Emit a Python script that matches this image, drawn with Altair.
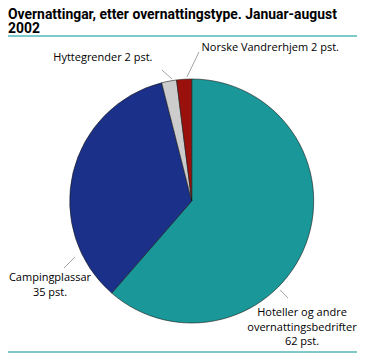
import math
import altair as alt
import pandas as pd

# ---- data ----
categories = ["Hoteller og andre overnattingsbedrifter", "Campingplassar", "Hyttegrender", "Norske Vandrerhjem"]
values = [62, 35, 2, 2]
label_texts = [
    "Hoteller og andre\novernattingsbedrifter\n62 pst.",
    "Campingplassar\n35 pst.",
    "Hyttegrender 2 pst.",
    "Norske Vandrerhjem 2 pst.",
]
colors = ["#1a9899", "#1b3189", "#cccccc", "#9a100c"]
title_text = "Overnattingar, etter overnattingstype. Januar-august\n2002"

# ---- layout ----
W, H = 349, 345
CX, CY, R = 183.7, 193.0, 122
FONT = "Open Sans"

pie_df = pd.DataFrame({"category": categories, "value": values, "order": list(range(len(values)))})

pie = alt.Chart(pie_df).mark_arc(radius=R, x=CX, y=CY, stroke="#1a1a1a", strokeWidth=0.6).encode(
    theta=alt.Theta("value:Q", stack=True),
    color=alt.Color("category:N", scale=alt.Scale(domain=categories, range=colors), legend=None),
    order=alt.Order("order:Q"),
)

# leader lines: (angle_in_deg, radius) at inner and outer end, clockwise from 12 o'clock
leaders = [
    (135.2, 125.4, 135.2, 136.7),
    (244.4, 129.4, 242.3, 144.2),
    (350.8, 123.6, 347.2, 134.3),
    (357.8, 124.1, 2.8, 149.2),
]
def pt(a, r):
    t = math.radians(a)
    return CX + r * math.sin(t), CY - r * math.cos(t)
rows = []
for a1, r1, a2, r2 in leaders:
    x1, y1 = pt(a1, r1)
    x2, y2 = pt(a2, r2)
    rows.append({"x": x1, "y": y1, "x2": x2, "y2": y2})
lead_df = pd.DataFrame(rows)
lead = alt.Chart(lead_df).mark_rule(color="#8c8c8c", strokeWidth=0.8).encode(
    x=alt.X("x:Q", scale=None), y=alt.Y("y:Q", scale=None),
    x2="x2:Q", y2="y2:Q",
)

# label anchors
lab_x = [294.0, 42.0, 144.5, 193.5]
lab_y = [307.7, 272.7, 52.5, 42.5]
lab_align = ["center", "center", "right", "left"]
lab_df = pd.DataFrame({"text": label_texts, "x": lab_x, "y": lab_y, "align": lab_align})

label_layers = []
for al in ["center", "right", "left"]:
    label_layers.append(
        alt.Chart(lab_df).transform_filter(alt.datum.align == al).mark_text(
            align=al, baseline="alphabetic", font=FONT, fontSize=11, color="#000000",
            lineBreak="\n", lineHeight=14.9,
        ).encode(x=alt.X("x:Q", scale=None), y=alt.Y("y:Q", scale=None), text="text:N")
    )

title = alt.Chart(pd.DataFrame({"t": [title_text]})).mark_text(
    align="left", baseline="alphabetic", font="Roboto", fontSize=13.9, fontWeight="bold",
    color="#000000", lineBreak="\n", lineHeight=14.2,
).encode(x=alt.value(0), y=alt.value(10.6), text="t:N")

top_rule = alt.Chart(pd.DataFrame({"a": [0]})).mark_rule(color="#80c9cb", strokeWidth=2.2).encode(
    x=alt.value(0), x2=alt.value(W), y=alt.value(28)
)
bottom_rule = alt.Chart(pd.DataFrame({"a": [0]})).mark_rule(color="#80c9cb", strokeWidth=2).encode(
    x=alt.value(0), x2=alt.value(W), y=alt.value(344)
)

chart = alt.layer(pie, lead, *label_layers, title, top_rule, bottom_rule).properties(
    width=W, height=H, autosize="none", padding=0
).configure_view(stroke=None)

chart.save("out.html", embed_options={"renderer": "svg", "actions": False})
